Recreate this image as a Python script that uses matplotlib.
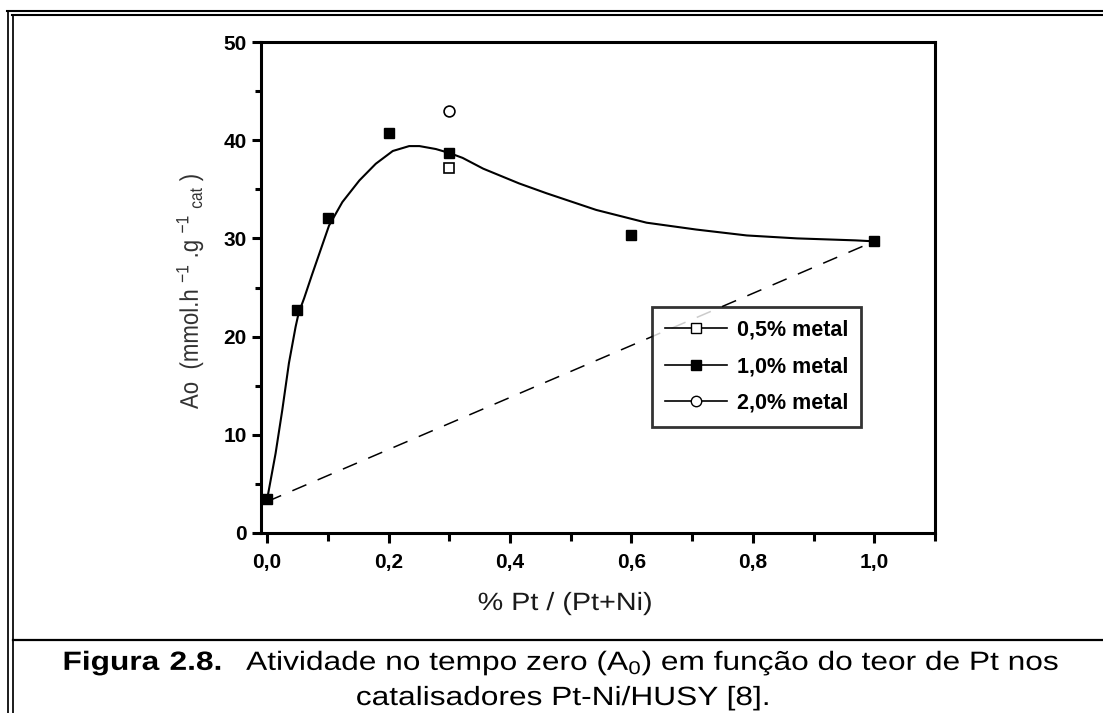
import matplotlib
matplotlib.use("Agg")
import matplotlib.pyplot as plt
from matplotlib.lines import Line2D
from matplotlib.patheffects import AbstractPathEffect
from matplotlib.transforms import Affine2D

# --- data ---------------------------------------------------------------
# 1,0% metal (filled squares)
x_10 = [0.0, 0.05, 0.10, 0.20, 0.30, 0.60, 1.00]
y_10 = [3.5, 22.7, 32.1, 40.7, 38.7, 30.3, 29.7]
# 0,5% metal (open square)
x_05 = [0.30]
y_05 = [37.2]
# 2,0% metal (open circle)
x_20 = [0.30]
y_20 = [43.0]

# smooth fitted curve
curve_x = [0.0, 0.014, 0.025, 0.036, 0.047, 0.052, 0.061, 0.074, 0.088, 0.102,
           0.124, 0.152, 0.179, 0.207, 0.234, 0.251, 0.278, 0.300, 0.322, 0.356,
           0.415, 0.460, 0.542, 0.625, 0.707, 0.790, 0.873, 0.969, 1.000]
curve_y = [3.4, 8.1, 12.5, 17.3, 21.0, 22.4, 23.9, 26.3, 28.8, 31.3,
           33.7, 35.9, 37.6, 38.9, 39.4, 39.4, 39.1, 38.7, 38.2, 37.1,
           35.6, 34.6, 32.9, 31.6, 30.9, 30.3, 30.0, 29.8, 29.7]

# dashed straight line between the pure-metal ends
dash_x = [0.0, 1.0]
dash_y = [3.2, 29.7]

legend_labels = ["0,5% metal", "1,0% metal", "2,0% metal"]
x_ticks = [0.0, 0.2, 0.4, 0.6, 0.8, 1.0]
x_ticklabels = ["0,0", "0,2", "0,4", "0,6", "0,8", "1,0"]
y_ticks = [0, 10, 20, 30, 40, 50]


class HStretch(AbstractPathEffect):
    """Stretch rendered text horizontally (display x) about its centre."""

    def __init__(self, sx):
        super().__init__()
        self.sx = sx

    def draw_path(self, renderer, gc, tpath, affine, rgbFace=None):
        ext = tpath.get_extents(affine)
        cx = 0.5 * (ext.x0 + ext.x1)
        tr = affine + Affine2D().translate(-cx, 0).scale(self.sx, 1).translate(cx, 0)
        renderer.draw_path(gc, tpath, tr, rgbFace)


plt.rcParams["font.family"] = ["Liberation Sans", "DejaVu Sans"]
plt.rcParams["mathtext.fontset"] = "custom"
plt.rcParams["mathtext.rm"] = "Liberation Sans"
plt.rcParams["mathtext.bf"] = "Liberation Sans:bold"
plt.rcParams["mathtext.default"] = "regular"

W, H = 1103, 713
fig = plt.figure(figsize=(W / 100, H / 100), dpi=100)
ax = fig.add_axes([261 / W, 1 - 533 / H, (935 - 261) / W, (533 - 42) / H])

ax.plot(curve_x, curve_y, color="black", lw=1.5, zorder=2,
        solid_joinstyle="round")
ax.plot(dash_x, dash_y, color="black", lw=1.1, dashes=(10, 8), zorder=2)

ax.plot(x_10, y_10, "s", color="black", ms=7.2, zorder=3)
ax.plot(x_05, y_05, "s", mfc="white", mec="black", mew=1.2, ms=7.6, zorder=3)
ax.plot(x_20, y_20, "o", mfc="white", mec="black", mew=1.2, ms=7.8, zorder=3)

ax.set_xlim(-0.01, 1.1)
ax.set_ylim(0, 50)
ax.set_xticks(x_ticks)
ax.set_xticklabels(x_ticklabels)
ax.set_xticks([0.1, 0.3, 0.5, 0.7, 0.9, 1.1], minor=True)
ax.set_yticks(y_ticks)
ax.set_yticks([5, 15, 25, 35, 45], minor=True)

for s in ax.spines.values():
    s.set_linewidth(2.2)
ax.tick_params(axis="y", which="major", direction="out", length=6.5, width=2.2, pad=3.8)
ax.tick_params(axis="y", which="minor", direction="out", length=4.3, width=2.2)
ax.tick_params(axis="x", which="major", direction="out", length=7, width=2.2, pad=7.3)
ax.tick_params(axis="x", which="minor", direction="out", length=5.5, width=2.2)
for lab in ax.get_xticklabels() + ax.get_yticklabels():
    lab.set_fontweight("bold")
    lab.set_fontsize(15)

ax.set_xlabel("% Pt / (Pt+Ni)", fontsize=18, color="#1a1a1a",
              path_effects=[HStretch(1.15)])
ax.xaxis.set_label_coords((565 - 261) / 674, (533 - 603) / 491)
ax.xaxis.label.set_va("center")

ax.set_ylabel(r"Ao  (mmol.h $^{-1}$ .g $^{-1}$ $_{cat}$ )", fontsize=16,
              color="#333333", path_effects=[HStretch(1.15)])
ax.yaxis.set_label_coords((190 - 261) / 674, (533 - 291) / 491)
ax.yaxis.label.set_va("center")
ax.yaxis.label.set_ha("center")

handles = [
    Line2D([], [], color="black", lw=1.2, marker="s", mfc="white", mec="black", ms=7),
    Line2D([], [], color="black", lw=1.2, marker="s", mfc="black", mec="black", ms=7),
    Line2D([], [], color="black", lw=1.2, marker="o", mfc="white", mec="black", ms=7.5),
]
leg = ax.legend(handles, legend_labels, loc="upper left",
                bbox_to_anchor=((652 - 261) / 674, (533 - 307) / 491),
                frameon=True, fancybox=False, edgecolor="black",
                prop={"weight": "bold", "size": 15.5},
                handlelength=2.9, handletextpad=0.45, labelspacing=0.72,
                borderpad=0.6, borderaxespad=0, numpoints=1)
leg.get_frame().set_linewidth(2.0)

# --- outer frame and caption ---------------------------------------------
def fig_line(xs, ys, lw):
    fig.add_artist(Line2D([x / W for x in xs], [1 - y / H for y in ys],
                          color="black", lw=lw, transform=fig.transFigure))

fig_line([7, W], [11, 11], 1.5)
fig_line([12, W], [15, 15], 1.5)
fig_line([8.2, 8.2], [11, H], 1.25)
fig_line([12.8, 12.8], [15, H], 1.25)
fig_line([12.8, W], [640, 640], 1.6)

fig.text(561 / W, 1 - 663 / H,
         r"$\bf{Figura\ 2.8.}$  Atividade no tempo zero (A$_0$) em função do teor de Pt nos",
         fontsize=19, ha="center", va="center", path_effects=[HStretch(1.2)])
fig.text(563 / W, 1 - 698 / H, "catalisadores Pt-Ni/HUSY [8].", fontsize=19,
         ha="center", va="center", path_effects=[HStretch(1.2)])

fig.savefig("out.png", dpi=100)
